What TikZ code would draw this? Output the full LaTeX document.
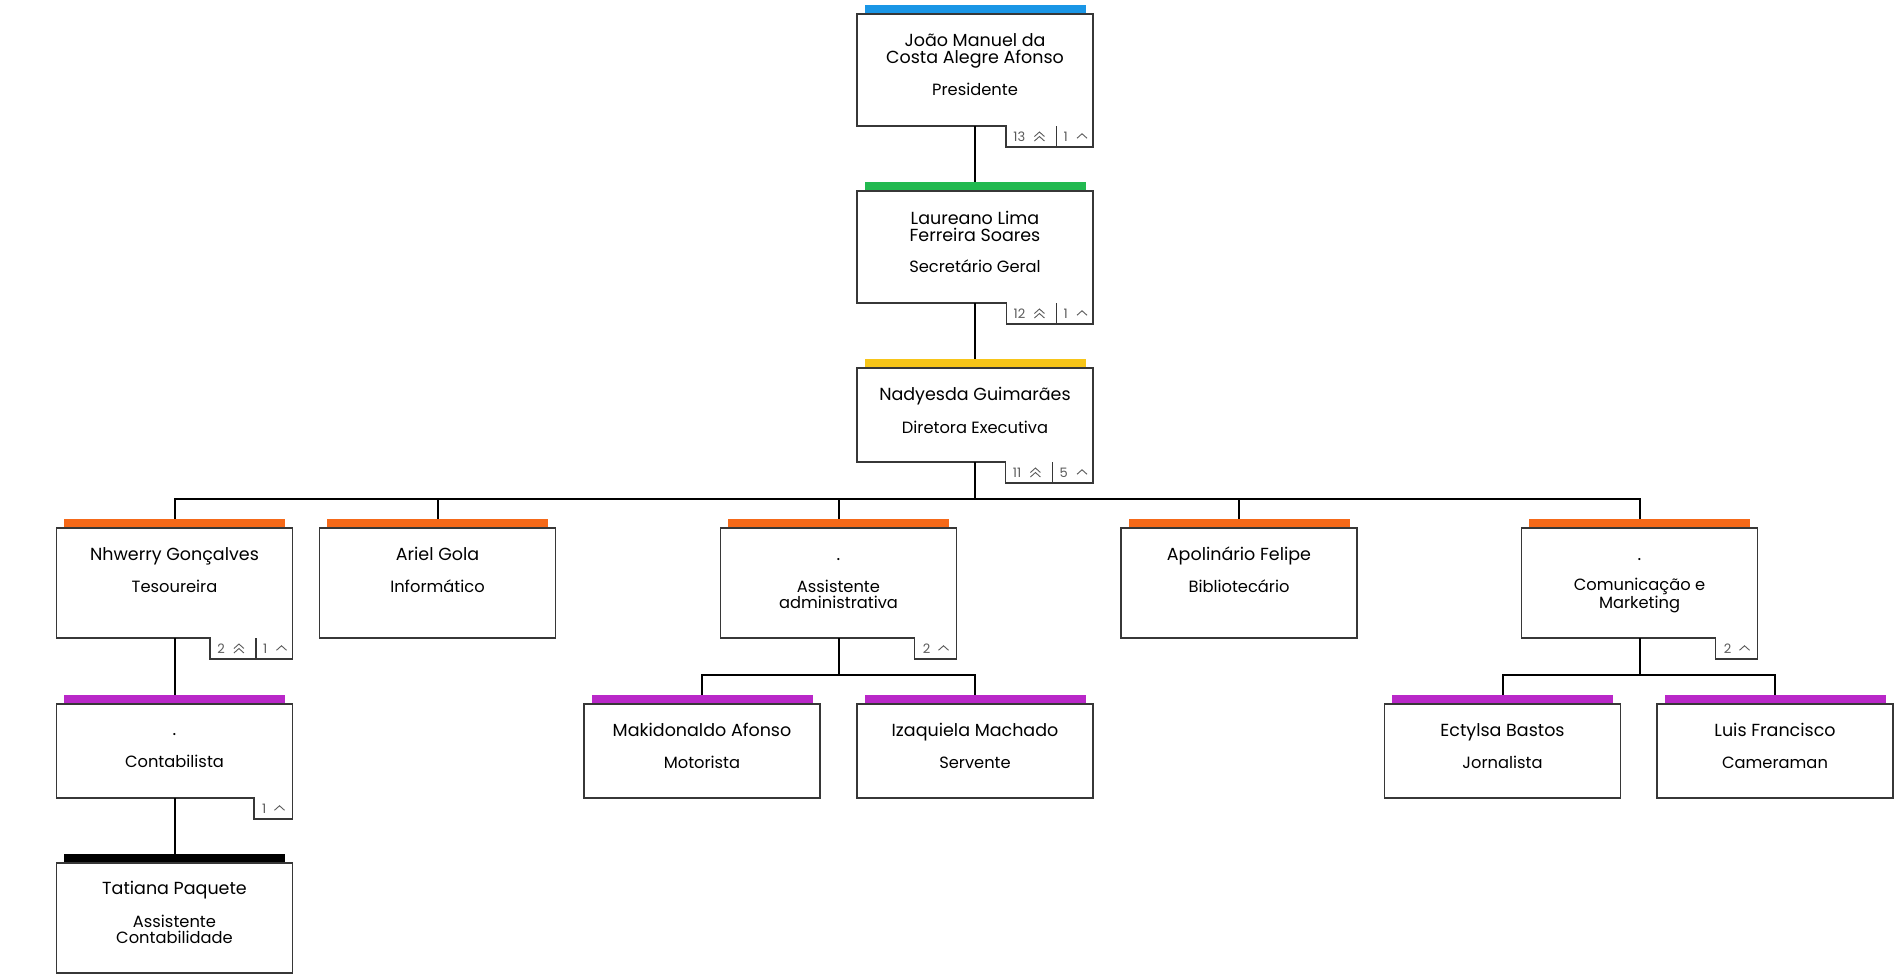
\documentclass[tikz,border=0pt]{standalone}
\usepackage{fontspec}
\setmainfont{Poppins}
\usetikzlibrary{calc}
\definecolor{cblue}{RGB}{26,150,230}
\definecolor{cgreen}{RGB}{34,185,80}
\definecolor{cyellow}{RGB}{247,197,24}
\definecolor{corange}{RGB}{245,105,25}
\definecolor{cpurple}{RGB}{185,40,200}
\definecolor{cborder}{RGB}{55,55,55}
\definecolor{ctab}{RGB}{90,90,90}
\tikzset{
  card/.style={rectangle, minimum width=236pt, inner sep=0pt, outer sep=0pt},
  cardbar/.style={rectangle, minimum width=221pt, minimum height=9pt, inner sep=0pt, outer sep=0pt},
  cardline/.style={draw=cborder, line width=1.5pt},
  conn/.style={draw=black, line width=2pt},
  nametext/.style={font=\fontsize{17.5}{17}\selectfont, align=center, inner sep=0pt, text=black},
  titletext/.style={font=\fontsize{16.3}{15.5}\selectfont, align=center, inner sep=0pt, text=black},
  tabnum/.style={font=\fontsize{13}{13}\selectfont, text=ctab, inner sep=0pt},
  chev/.style={draw=ctab, line width=0.9pt},
  divider/.style={draw=cborder, line width=1.2pt},
}
% id, cx, top, height, colour, name, title, name baseline (last line), title baseline (last line)
\newcommand\card[9]{%
  \node[card, minimum height=#4pt, anchor=north] (#1) at (#2,#3) {};
  \node[cardbar, fill=#5, anchor=south] (#1bar) at (#1.north) {};
  \node[nametext, anchor=base] (#1name) at ($(#1.north)+(0,#8)$) {#6};
  \node[titletext, anchor=base] (#1title) at ($(#1.north)+(0,#9)$) {#7};
}
\newcommand\plainbox[1]{\draw[cardline] (#1.north west) rectangle (#1.south east);}
\newcommand\tabpoly[1]{%
  \draw[cardline] (#1.north west) -- (#1.north east) -- ($(#1.south east)+(0,21)$)
    -- ($(#1tabL |- #1.south)+(0,21)$) -- (#1tabL |- #1.south) -- (#1.south west) -- cycle;
}
\newcommand\tabone[2]{%
  \node[tabnum, anchor=base east] (#1tn) at ($(#1.south east)+(-26,15)$) {#2};
  \coordinate (#1tabL) at ($(#1tn.base west)+(-8,0)$);
  \coordinate (#1c) at ($(#1.south east)+(-13,10)$);
  \draw[chev] ($(#1c)+(-5,2.25)$) -- ++(5,-4.5) -- ++(5,4.5);
  \tabpoly{#1}
}
\newcommand\tabtwo[3]{%
  \node[tabnum, anchor=base east] (#1tn2) at ($(#1.south east)+(-25,15)$) {#3};
  \coordinate (#1div) at ($(#1tn2.base west)+(-7,0)$);
  \node[tabnum, anchor=base east] (#1tn1) at ($(#1div)+(-31,0)$) {#2};
  \coordinate (#1tabL) at ($(#1tn1.base west)+(-7,0)$);
  \draw[divider] (#1div |- #1.south) -- ($(#1div |- #1.south)+(0,21)$);
  \coordinate (#1c2) at ($(#1.south east)+(-11,10)$);
  \draw[chev] ($(#1c2)+(-5,2.25)$) -- ++(5,-4.5) -- ++(5,4.5);
  \coordinate (#1c1) at ($(#1div |- #1.south)+(-17,0)$);
  \draw[chev] ($(#1c1)+(-5,10.5)$) -- ++(5,-4.5) -- ++(5,4.5);
  \draw[chev] ($(#1c1)+(-5,15)$) -- ++(5,-4.5) -- ++(5,4.5);
  \tabpoly{#1}
}
\begin{document}
\begin{tikzpicture}[x=1pt,y=-1pt]
\useasboundingbox[fill=white] (0,0) rectangle (1901,978);

\card{b1}{975}{14}{112}{cblue}{João Manuel da\\Costa Alegre Afonso}{Presidente}{49}{81}
\card{b2}{975}{191}{112}{cgreen}{Laureano Lima\\Ferreira Soares}{Secretário Geral}{50}{81}
\card{b3}{975}{368}{94}{cyellow}{Nadyesda Guimarães}{Diretora Executiva}{32}{65}
\card{nh}{174.5}{528}{110}{corange}{Nhwerry Gonçalves}{Tesoureira}{32}{64}
\card{ag}{437.5}{528}{110}{corange}{Ariel Gola}{Informático}{32}{64}
\card{as}{838.5}{528}{110}{corange}{.}{Assistente\\administrativa}{32}{80}
\card{af}{1239}{528}{110}{corange}{Apolinário Felipe}{Bibliotecário}{32}{64}
\card{cm}{1639.5}{528}{110}{corange}{.}{Comunicação e\\Marketing}{32}{80}
\card{ct}{174.5}{704}{94}{cpurple}{.}{Contabilista}{31}{63}
\card{mk}{702}{704}{94}{cpurple}{Makidonaldo Afonso}{Motorista}{32}{64}
\card{iz}{975}{704}{94}{cpurple}{Izaquiela Machado}{Servente}{32}{64}
\card{eb}{1502.5}{704}{94}{cpurple}{Ectylsa Bastos}{Jornalista}{32}{64}
\card{lf}{1775}{704}{94}{cpurple}{Luis Francisco}{Cameraman}{32}{64}
\card{tp}{174.5}{863}{110}{black}{Tatiana Paquete}{Assistente\\Contabilidade}{31}{80}

\tabtwo{b1}{13}{1}
\tabtwo{b2}{12}{1}
\tabtwo{b3}{11}{5}
\tabtwo{nh}{2}{1}
\plainbox{ag}
\tabone{as}{2}
\plainbox{af}
\tabone{cm}{2}
\tabone{ct}{1}
\plainbox{mk}
\plainbox{iz}
\plainbox{eb}
\plainbox{lf}
\plainbox{tp}

\coordinate (j3) at (975,499);
\coordinate (j4a) at (838.5,675);
\coordinate (j4c) at (1639.5,675);
\draw[conn] (b1.south) -- (b2bar.north);
\draw[conn] (b2.south) -- (b3bar.north);
\foreach \c in {nh,ag,as,af,cm} { \draw[conn] (b3.south) -- (j3) -| (\c bar.north); }
\draw[conn] (nh.south) -- (ctbar.north);
\draw[conn] (ct.south) -- (tpbar.north);
\foreach \c in {mk,iz} { \draw[conn] (as.south) -- (j4a) -| (\c bar.north); }
\foreach \c in {eb,lf} { \draw[conn] (cm.south) -- (j4c) -| (\c bar.north); }
\end{tikzpicture}
\end{document}
